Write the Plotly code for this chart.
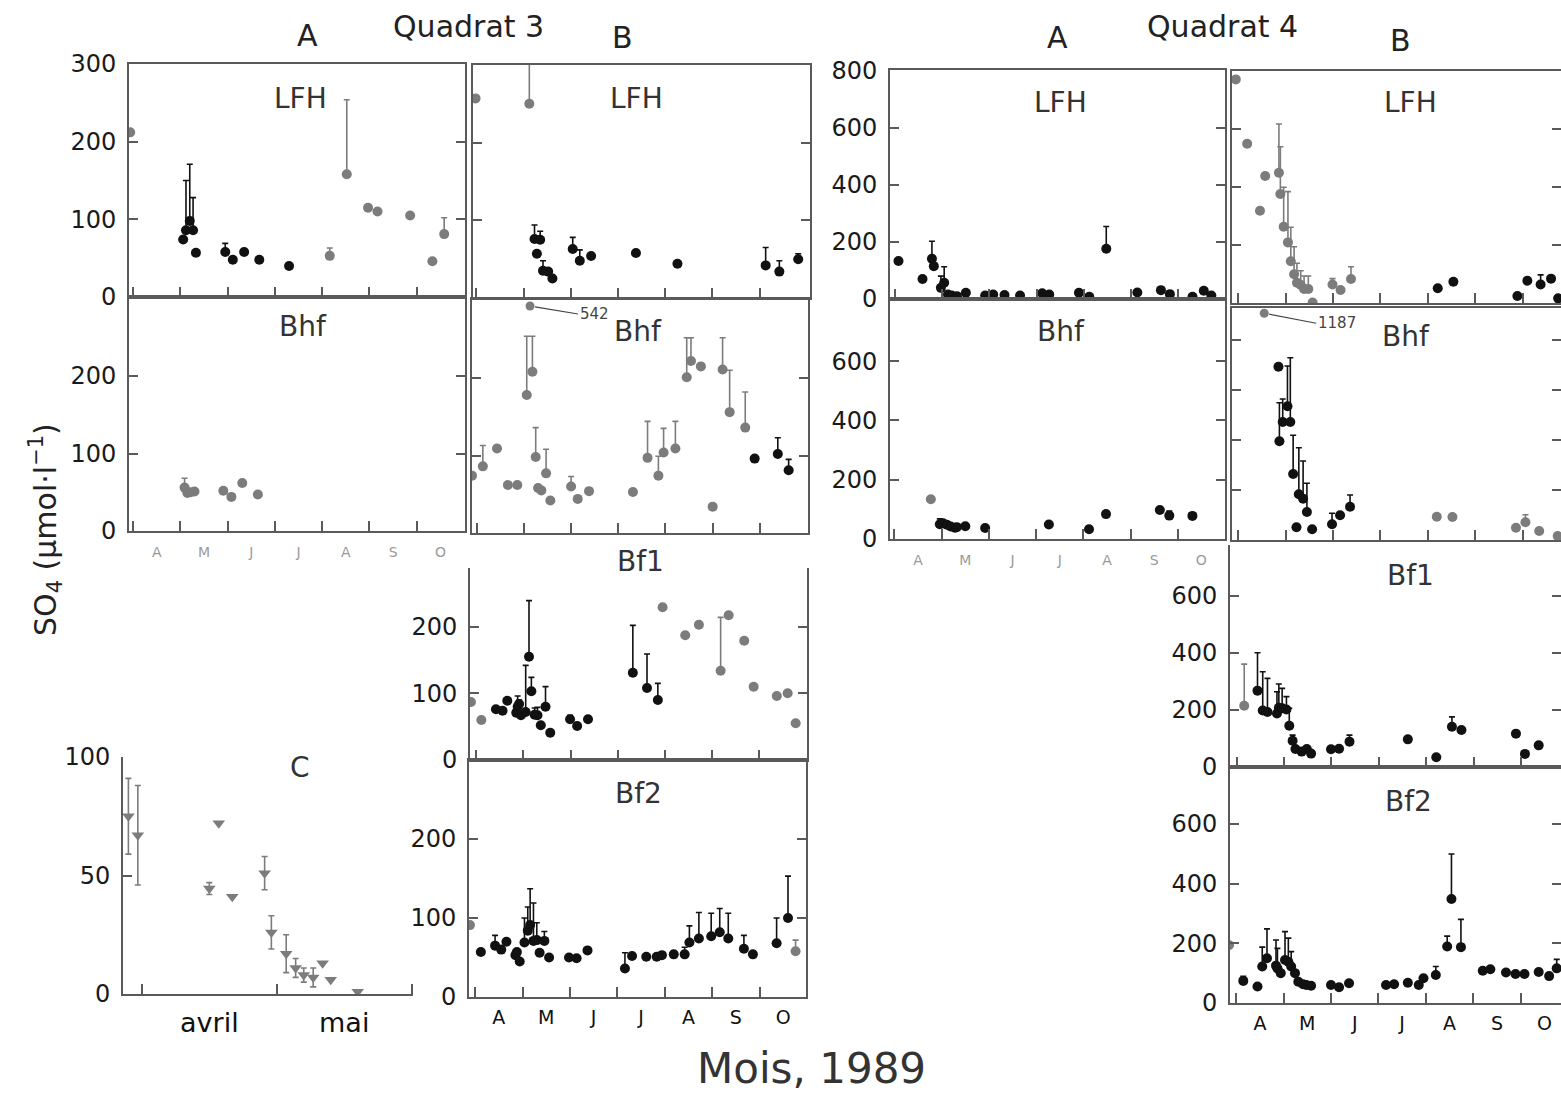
import plotly.graph_objects as go

W, H = 1561, 1118

# ---------------- data (x = months since 1 April 1989; 0 = 1 Apr, 1 = 1 May ...) ----------------
MONTHS = ["A", "M", "J", "J", "A", "S", "O"]
C_MONTHS = ["avril", "mai"]

# Quadrat 3, A, LFH
q3a_lfh_x = [-0.06, 1.06, 1.12, 1.20, 1.27, 1.33, 1.95, 2.11, 2.35, 2.67, 3.30, 4.16, 4.52, 4.97, 5.17, 5.86, 6.33, 6.58]
q3a_lfh_y = [212, 74, 86, 98, 86, 57, 58, 48, 58, 48, 40, 53, 158, 115, 110, 105, 46, 81]
q3a_lfh_e = [None, None, 64, 73, 42, None, 11, None, None, None, None, 10, 96, None, None, None, None, 21]

# Quadrat 3, A, Bhf
q3a_bhf_x = [1.09, 1.15, 1.22, 1.30, 1.91, 2.08, 2.31, 2.64]
q3a_bhf_y = [56, 49, 50, 51, 52, 44, 62, 47]
q3a_bhf_e = [12, None, None, None, None, None, None, None]

# Quadrat 3, B, LFH
q3b_lfh_x = [-0.02, 1.12, 1.23, 1.28, 1.35, 1.41, 1.52, 1.61, 2.04, 2.19, 2.43, 3.38, 4.26, 6.13, 6.42, 6.82]
q3b_lfh_y = [257, 250, 76, 57, 75, 35, 34, 25, 63, 48, 54, 58, 44, 42, 34, 50]
q3b_lfh_e = [None, 60, 18, None, 11, 13, None, None, 15, 14, None, None, None, 23, 14, 7]

# Quadrat 3, B, Bhf
q3b_bhf_x = [-0.10, 0.13, 0.43, 0.66, 0.86, 1.06, 1.18, 1.25, 1.30, 1.37, 1.47, 1.56, 2.00, 2.14, 2.38,
             3.31, 3.62, 3.85, 3.96, 4.21, 4.45, 4.54, 4.75, 5.00, 5.21, 5.36, 5.69, 5.89, 6.38, 6.61]
q3b_bhf_y = [74, 86, 109, 62, 62, 178, 208, 98, 58, 55, 77, 42, 60, 44, 54,
             53, 97, 74, 104, 109, 201, 222, 215, 34, 211, 156, 136, 96, 102, 81]
q3b_bhf_e = [None, 27, None, None, None, 76, 46, 38, None, None, 31, None, 13, None, None,
             None, 47, 25, 31, 35, 51, 30, None, None, 41, 54, 46, None, 21, 14]
q3b_bhf_off_x = [1.13]
q3b_bhf_off_val = [542]
q3b_bhf_off_shown = [293]

# Quadrat 3, B, Bf1
q3b_bf1_x = [-0.11, 0.11, 0.42, 0.56, 0.66, 0.85, 0.88, 0.91, 0.95, 1.05, 1.12, 1.17, 1.24, 1.30, 1.37, 1.47, 1.57,
             1.99, 2.14, 2.37, 3.32, 3.62, 3.85, 3.95, 4.43, 4.72, 5.18, 5.35, 5.68, 5.88, 6.37, 6.60, 6.77]
q3b_bf1_y = [87, 60, 76, 74, 89, 71, 80, 84, 67, 72, 155, 103, 68, 67, 52, 80, 41,
             61, 51, 61, 131, 108, 90, 229, 187, 203, 134, 217, 179, 110, 96, 100, 55]
q3b_bf1_e = [None, None, None, None, None, None, 16, 6, None, 70, 84, 21, 10, 12, None, 30, None,
             6, None, 4, 71, 51, 25, None, None, None, 80, None, None, None, None, None, None]
q3b_bf1_off_x = [5.00]
q3b_bf1_off_val = [385]
q3b_bf1_off_shown = [329]

# Quadrat 3, B, Bf2
q3b_bf2_x = [-0.11, 0.12, 0.42, 0.55, 0.66, 0.85, 0.88, 0.94, 1.04, 1.11, 1.16, 1.23, 1.30, 1.36, 1.46, 1.56,
             1.98, 2.14, 2.37, 3.16, 3.31, 3.61, 3.83, 3.94, 4.19, 4.42, 4.52, 4.72, 4.98, 5.16, 5.34, 5.67,
             5.86, 6.36, 6.60, 6.76]
q3b_bf2_y = [91, 57, 65, 60, 70, 53, 57, 45, 69, 84, 91, 71, 72, 56, 71, 50,
             50, 49, 59, 36, 52, 51, 51, 53, 54, 54, 69, 74, 77, 82, 74, 61,
             54, 68, 100, 58]
q3b_bf2_e = [None, None, 13, None, None, None, None, None, 31, 30, 46, 48, 22, None, 12, None,
             None, None, None, 20, None, None, None, None, None, 9, 21, 33, 29, 30, 32, 17,
             None, 32, 53, 14]

# Quadrat 3, C (avril - mai)
q3c_x = [-0.10, -0.03, 0.50, 0.57, 0.67, 0.91, 0.96, 1.07, 1.14, 1.20, 1.27, 1.34, 1.40, 1.60]
q3c_y = [75, 67, 44.5, 72, 41, 51, 26, 17, 11, 8, 7, 13, 6, 1]
q3c_e = [16, 21, 2.5, None, None, 7, 7, 8, 4, 3, 4, None, None, None]

# Quadrat 4, A, LFH
q4a_lfh_x = [0.07, 0.58, 0.78, 0.82, 0.97, 1.04, 1.12, 1.20, 1.31, 1.50, 1.91, 2.08, 2.32, 2.65, 3.12, 3.27,
             3.90, 4.12, 4.48, 5.14, 5.64, 5.83, 6.31, 6.55, 6.71]
q4a_lfh_y = [133, 70, 141, 115, 39, 57, 16, 12, 10, 22, 12, 16, 14, 12, 20, 16,
             22, 8, 176, 23, 31, 17, 8, 29, 12]
q4a_lfh_e = [None, None, 61, None, 41, 56, None, None, None, None, None, None, None, None, None, None,
             None, None, 78, None, None, None, None, None, None]

# Quadrat 4, A, Bhf
q4a_bhf_x = [0.77, 0.96, 1.03, 1.11, 1.19, 1.28, 1.32, 1.50, 1.92, 3.27, 4.12, 4.48, 5.62, 5.82, 6.31]
q4a_bhf_y = [134, 50, 53, 48, 42, 38, 40, 43, 37, 49, 33, 84, 98, 79, 78]
q4a_bhf_e = [None, 18, None, None, None, None, None, None, None, None, None, None, None, 15, None]

# Quadrat 4, B, LFH
q4b_lfh_x = [-0.05, 0.19, 0.46, 0.57, 0.86, 0.89, 0.96, 1.05, 1.11, 1.18, 1.24, 1.32, 1.39, 1.48, 1.57,
             1.99, 2.16, 2.38, 4.21, 4.54, 5.89, 6.10, 6.38, 6.60, 6.75]
q4b_lfh_y = [771, 549, 318, 438, 449, 376, 263, 209, 144, 99, 70, 62, 48, 48, 2,
             64, 45, 83, 51, 73, 24, 77, 64, 84, 16]
q4b_lfh_e = [None, None, None, None, 168, 163, 136, 175, 117, 95, 67, 49, 45, 45, None,
             20, None, 42, None, None, None, 10, 33, None, None]

# Quadrat 4, B, Bhf
q4b_bhf_x = [0.85, 0.87, 0.94, 1.04, 1.10, 1.16, 1.23, 1.28, 1.37, 1.45, 1.56, 1.98, 2.15, 2.36,
             4.19, 4.52, 5.86, 6.06, 6.35, 6.74]
q4b_bhf_y = [693, 395, 472, 535, 472, 264, 51, 183, 165, 112, 43, 63, 99, 133,
             93, 92, 49, 71, 36, 16]
q4b_bhf_e = [None, 154, 92, 161, 257, 155, None, 186, 151, 115, None, 44, None, 47,
             None, None, None, 30, None, None]
q4b_bhf_off_x = [0.55]
q4b_bhf_off_val = [1187]
q4b_bhf_off_shown = [907]

# Quadrat 4, B, Bf1
q4b_bf1_x = [0.16, 0.44, 0.55, 0.65, 0.85, 0.89, 0.96, 1.05, 1.11, 1.18, 1.24, 1.37, 1.48, 1.57,
             1.99, 2.16, 2.38, 3.61, 4.21, 4.54, 4.74, 5.89, 6.08, 6.37]
q4b_bf1_y = [215, 268, 198, 193, 188, 208, 206, 202, 145, 92, 63, 54, 63, 47,
             62, 64, 89, 97, 34, 141, 130, 117, 46, 76]
q4b_bf1_e = [146, 133, 136, 118, 76, 83, 70, 45, 61, 20, None, None, 8, None,
             None, None, 23, None, None, 35, None, None, None, None]

# Quadrat 4, B, Bf2
q4b_bf2_x = [-0.15, 0.15, 0.45, 0.55, 0.65, 0.84, 0.87, 0.94, 1.03, 1.10, 1.16, 1.24, 1.31, 1.41, 1.48, 1.58,
             2.00, 2.17, 2.38, 3.16, 3.33, 3.62, 3.85, 3.95, 4.21, 4.45, 4.54, 4.74, 5.20, 5.36, 5.69, 5.89,
             6.08, 6.38, 6.60, 6.76]
q4b_bf2_y = [194, 74, 55, 122, 150, 125, 116, 100, 144, 138, 122, 100, 71, 63, 60, 58,
             60, 53, 66, 60, 63, 68, 60, 83, 94, 189, 348, 187, 108, 113, 102, 97,
             97, 104, 90, 116]
q4b_bf2_e = [None, 15, None, 65, 98, 86, 67, None, 95, 79, 50, None, None, None, None, None,
             None, None, None, None, None, None, None, None, 28, 35, 151, 93, None, None, None, None,
             None, None, None, 30]

# ---------------- styling / layout ----------------
DARK = "#111111"
PALE = "#7c7c7c"
AXIS = "#5a5a5a"
FONT = "DejaVu Sans"


def fx(px):
    return px / W


def fy(py):
    return 1 - py / H


ALL = "all"
panels = [
    dict(x=q3a_lfh_x, y=q3a_lfh_y, e=q3a_lfh_e, box=(129, 465, 64, 297), xr=(-0.085, 7.02), yr=(0, 300),
         yt=[0, 100, 200, 300], ylab=True, xlab=None, title=("LFH", 300, 98), pale={0, 11, 12, 13, 14, 15, 16, 17},
         mx=True, my="ticks"),
    dict(x=q3a_bhf_x, y=q3a_bhf_y, e=q3a_bhf_e, box=(129, 465, 297, 531), xr=(-0.085, 7.02), yr=(0, 302),
         yt=[0, 100, 200], ylab=True, xlab="faint", title=("Bhf", 303, 326), pale=ALL, mx=True, my="ticks"),
    dict(x=q3b_lfh_x, y=q3b_lfh_y, e=q3b_lfh_e, box=(473, 810, 65, 298), xr=(-0.074, 7.07), yr=(0, 300),
         yt=[100, 200], ylab=False, xlab=None, title=("LFH", 636, 99), pale={0, 1}, mx=True, my="ticks"),
    dict(x=q3b_bhf_x, y=q3b_bhf_y, e=q3b_bhf_e, box=(472, 808, 299, 533), xr=(-0.10, 7.02), yr=(0, 302),
         yt=[100, 200], ylab=False, xlab=None, title=("Bhf", 638, 331), pale=set(range(27)), mx=True, my="ticks",
         off=(q3b_bhf_off_x, q3b_bhf_off_val, q3b_bhf_off_shown, 48, 8)),
    dict(x=q3b_bf1_x, y=q3b_bf1_y, e=q3b_bf1_e, box=(470, 807, 568, 760), xr=(-0.13, 7.01), yr=(0, 288),
         yt=[0, 100, 200], ylab=True, xlab=None, title=("Bf1", 640, 561), pale={0, 1} | set(range(23, 33)),
         mx=False, my="ticks", off=(q3b_bf1_off_x, q3b_bf1_off_val, q3b_bf1_off_shown, 48, 8)),
    dict(x=q3b_bf2_x, y=q3b_bf2_y, e=q3b_bf2_e, box=(469, 806, 760, 997), xr=(-0.13, 6.98), yr=(0, 300),
         yt=[0, 100, 200], ylab=True, xlab="bold", title=("Bf2", 638, 793), pale={0, 35}, mx=True, my="ticks"),
    dict(x=q3c_x, y=q3c_y, e=q3c_e, box=(123, 413, 757, 994), xr=(-0.14, 2.01), yr=(0, 100),
         yt=[0, 50, 100], ylab=True, xlab="c", title=("C", 300, 768), pale=ALL, mx=False, my=False,
         sym=True, symbol="triangle-down"),
    dict(x=q4a_lfh_x, y=q4a_lfh_y, e=q4a_lfh_e, box=(890, 1225, 70, 299), xr=(-0.11, 7.0), yr=(0, 802),
         yt=[0, 200, 400, 600, 800], ylab=True, xlab=None, title=("LFH", 1060, 103), pale=set(), mx=True, my="ticks"),
    dict(x=q4a_bhf_x, y=q4a_bhf_y, e=q4a_bhf_e, box=(890, 1225, 299, 539), xr=(-0.095, 7.0), yr=(0, 810),
         yt=[0, 200, 400, 600], ylab=True, xlab="faint", title=("Bhf", 1061, 331), pale={0}, mx=True, my="ticks"),
    dict(x=q4b_lfh_x, y=q4b_lfh_y, e=q4b_lfh_e, box=(1232, 1561, 71, 303), xr=(-0.13, 6.81), yr=(0, 800),
         yt=[200, 400, 600], ylab=False, xlab=None, title=("LFH", 1410, 103), pale=set(range(18)), mx=True, my="ticks"),
    dict(x=q4b_bhf_x, y=q4b_bhf_y, e=q4b_bhf_e, box=(1232, 1561, 308, 540), xr=(-0.13, 6.81), yr=(0, 928),
         yt=[200, 400, 600, 800], ylab=False, xlab=None, title=("Bhf", 1406, 337), pale=set(range(14, 20)),
         mx=True, my="ticks", off=(q4b_bhf_off_x, q4b_bhf_off_val, q4b_bhf_off_shown, 52, 10)),
    dict(x=q4b_bf1_x, y=q4b_bf1_y, e=q4b_bf1_e, box=(1230, 1561, 545, 767), xr=(-0.14, 6.84), yr=(0, 779),
         yt=[0, 200, 400, 600], ylab=True, xlab=None, title=("Bf1", 1410, 575), pale={0}, mx=False, my="ticks"),
    dict(x=q4b_bf2_x, y=q4b_bf2_y, e=q4b_bf2_e, box=(1230, 1561, 767, 1003), xr=(-0.13, 6.85), yr=(0, 790),
         yt=[0, 200, 400, 600], ylab=True, xlab="bold", title=("Bf2", 1408, 801), pale={0}, mx=True, my="ticks"),
]

fig = go.Figure()
layout = dict(width=W, height=H, autosize=False, margin=dict(l=0, r=0, t=0, b=0, pad=0), showlegend=False,
              paper_bgcolor="white", plot_bgcolor="rgba(0,0,0,0)", annotations=[])

for i, p in enumerate(panels, start=1):
    xa, ya = f"x{i}", f"y{i}"
    l, r, t, b = p["box"]
    n = len(p["x"])
    pale = set(range(n)) if p["pale"] == ALL else p["pale"]
    sym = p.get("sym", False)
    for grp, col in ((sorted(pale), PALE), ([k for k in range(n) if k not in pale], DARK)):
        if not grp:
            continue
        ev = [p["e"][k] for k in grp]
        err = dict(type="data", array=ev, color=col, thickness=1.6, width=3, visible=True)
        if sym:
            err["symmetric"] = True
        else:
            err["symmetric"] = False
            err["arrayminus"] = [0 if v is not None else None for v in ev]
        fig.add_trace(go.Scatter(
            x=[p["x"][k] for k in grp], y=[p["y"][k] for k in grp], mode="markers",
            marker=dict(symbol=p.get("symbol", "circle"), size=10 if not sym else 11, color=col,
                        line=dict(width=0)),
            error_y=err, xaxis=xa, yaxis=ya, hoverinfo="x+y"))

    if "off" in p:
        ox, oval, oshow, dxp, dyp = p["off"]
        fig.add_trace(go.Scatter(x=ox, y=oshow, mode="markers", cliponaxis=False,
                                 marker=dict(size=9, color=PALE), xaxis=xa, yaxis=ya,
                                 customdata=oval, hovertemplate="%{customdata}<extra></extra>"))
        for xv, v, s in zip(ox, oval, oshow):
            layout["annotations"].append(dict(
                x=xv, y=s, xref=xa, yref=ya, text=str(v), showarrow=True, arrowhead=0,
                arrowwidth=1.2, arrowcolor="#444", ax=dxp, ay=dyp, standoff=5,
                xanchor="left", font=dict(family=FONT, size=15, color="#444")))

    # x axis
    if p["xlab"] == "c":
        minor_vals, lab_vals, lab_txt = [0, 1, 2], [0.5, 1.5], C_MONTHS
        tfont = dict(family=FONT, size=27, color="#111")
        stand = 4
    else:
        minor_vals, lab_vals, lab_txt = list(range(7)), [k + 0.5 for k in range(7)], MONTHS
        if p["xlab"] == "faint":
            tfont = dict(family=FONT, size=14, color="#9a9a9a")
            stand = 7
        else:
            tfont = dict(family=FONT, size=19, color="#111")
            stand = 2
    layout[f"xaxis{i}"] = dict(
        domain=[fx(l), fx(r)], range=list(p["xr"]), anchor=ya, showline=True, linecolor=AXIS, linewidth=2,
        mirror=p["mx"], showgrid=False, zeroline=False, tickmode="array", tickvals=lab_vals,
        ticktext=lab_txt, ticks="", showticklabels=p["xlab"] is not None, tickfont=tfont,
        ticklabelstandoff=stand, automargin=False,
        minor=dict(tickmode="array", tickvals=minor_vals, ticks="inside", ticklen=10, tickwidth=2,
                   tickcolor=AXIS, showgrid=False),
        fixedrange=True)
    # y axis
    layout[f"yaxis{i}"] = dict(
        domain=[fy(b), fy(t)], range=list(p["yr"]), anchor=xa, showline=True, linecolor=AXIS, linewidth=2,
        mirror=p["my"], showgrid=False, zeroline=False, tickmode="array", tickvals=p["yt"],
        ticks="inside", ticklen=9, tickwidth=2, tickcolor=AXIS, showticklabels=p["ylab"],
        tickfont=dict(family=FONT, size=24, color="#1a1a1a"), ticklabelstandoff=6, automargin=False,
        fixedrange=True)

    txt, tx, ty = p["title"]
    layout["annotations"].append(dict(
        x=fx(tx), y=fy(ty), xref="paper", yref="paper", text=txt, showarrow=False,
        xanchor="center", yanchor="middle", font=dict(family=FONT, size=28, color="#333")))

# headers
for txt, hx, hy, sz in (("A", 307, 36, 30), ("Quadrat 3", 468, 27, 30), ("B", 622, 37, 30),
                        ("A", 1057, 37, 30), ("Quadrat 4", 1222, 27, 30), ("B", 1400, 40, 30)):
    layout["annotations"].append(dict(
        x=fx(hx), y=fy(hy), xref="paper", yref="paper", text=txt, showarrow=False,
        xanchor="center", yanchor="middle", font=dict(family=FONT, size=sz, color="#222")))

# axis titles
layout["annotations"].append(dict(
    x=fx(45), y=fy(530), xref="paper", yref="paper", text="SO<sub>4</sub> (μmol·l<sup>−1</sup>)",
    textangle=-90, showarrow=False, xanchor="center", yanchor="middle",
    font=dict(family=FONT, size=30, color="#222")))
layout["annotations"].append(dict(
    x=fx(812), y=fy(1068), xref="paper", yref="paper", text="Mois, 1989", showarrow=False,
    xanchor="center", yanchor="middle", font=dict(family=FONT, size=42, color="#333")))

fig.update_layout(**layout)
fig.write_html("out.html")
